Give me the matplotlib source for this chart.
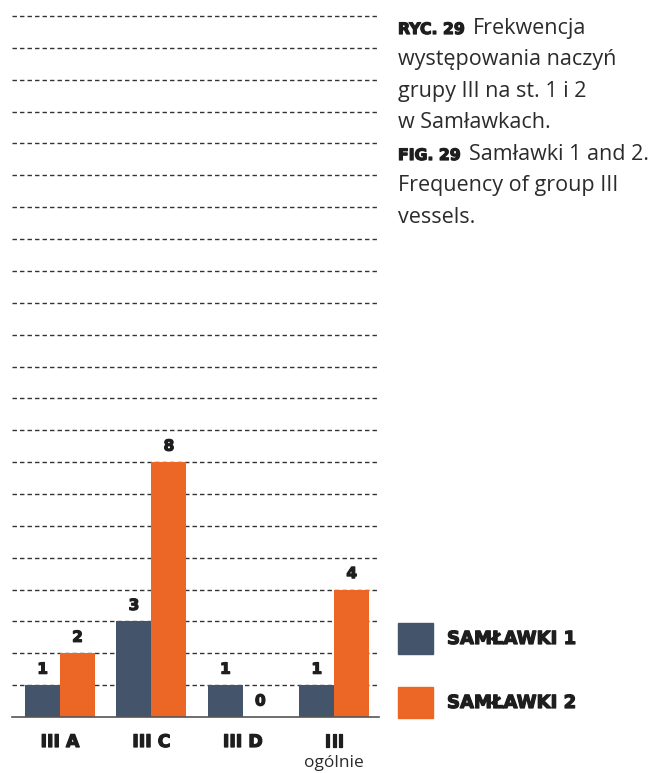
import matplotlib
matplotlib.use('Agg')
import matplotlib.pyplot as plt
import matplotlib.patheffects as pe
import numpy as np
from matplotlib.patches import Rectangle

# Data
categories = ['III A', 'III C', 'III D', 'III']
sublabels = ['', '', '', 'ogólnie']
samlawki_1 = [1, 3, 1, 1]
samlawki_2 = [2, 8, 0, 4]
series_names = ['SAMŁAWKI 1', 'SAMŁAWKI 2']

blue = '#44546a'
orange = '#ec6726'
ink = '#1e1e1e'
thick = [pe.withStroke(linewidth=0.9, foreground=ink)]
heavy = dict(family=['DejaVu Sans'], fontweight='bold', color=ink, path_effects=thick)
light = dict(family=['Open Sans', 'DejaVu Sans'], fontweight='normal', color='#2b2b2b')

W, H = 664, 773
fig = plt.figure(figsize=(W / 100, H / 100), dpi=100)
ax = fig.add_axes([12 / W, 56 / H, 367 / W, 707 / H])

x = np.arange(len(categories))
bw = 0.383
ax.bar(x - bw / 2, samlawki_1, bw, color=blue, zorder=3)
ax.bar(x + bw / 2, samlawki_2, bw, color=orange, zorder=3)

ax.set_xlim(-0.526, 3.49)
ax.set_ylim(0, 22.19)
ax.set_yticks(np.arange(1, 23))
ax.grid(axis='y', color='#333333', linestyle=(0, (3.2, 2.2)), linewidth=1.0, zorder=1)
ax.tick_params(left=False, bottom=False, labelleft=False, labelbottom=False)
for s in ['top', 'right', 'left']:
    ax.spines[s].set_visible(False)
ax.spines['bottom'].set_color('#555555')
ax.spines['bottom'].set_linewidth(1.2)
ax.spines['bottom'].set_zorder(4)

# value labels
for xs, vals in [(x - bw / 2, samlawki_1), (x + bw / 2, samlawki_2)]:
    for xi, v in zip(xs, vals):
        ax.annotate(str(v), xy=(xi, v), xytext=(0, 11.5), textcoords='offset points',
                    ha='center', va='center', fontsize=11, **heavy)

# category labels
for xi, cat, sub in zip(x, categories, sublabels):
    ax.annotate(cat, xy=(xi, 0), xycoords=('data', 'axes fraction'), xytext=(0, -18),
                textcoords='offset points', ha='center', va='center', fontsize=12.5, **heavy)
    if sub:
        ax.annotate(sub, xy=(xi, 0), xycoords=('data', 'axes fraction'), xytext=(0, -33),
                    textcoords='offset points', ha='center', va='center', fontsize=12.5, **light)

# legend
for i, (name, col) in enumerate(zip(series_names, [blue, orange])):
    y0 = 623 + i * 64
    fig.patches.append(Rectangle((398 / W, 1 - (y0 + 31) / H), 35 / W, 31 / H,
                                 transform=fig.transFigure, color=col))
    fig.text(447 / W, 1 - (y0 + 16) / H, name, ha='left', va='center', fontsize=13, **heavy)

# caption
cap_lines = [('RYC. 29', 'Frekwencja'), ('', 'występowania naczyń'), ('', 'grupy III na st. 1 i 2'),
             ('', 'w Samławkach.'), ('FIG. 29', 'Samławki 1 and 2.'), ('', 'Frequency of group III'),
             ('', 'vessels.')]
fig.canvas.draw()
for i, (lead, rest) in enumerate(cap_lines):
    yb = 1 - (34 + i * 31.5) / H
    if lead:
        t = fig.text(398 / W, yb, lead, ha='left', va='baseline', fontsize=11.3, **heavy)
        bb = t.get_window_extent(renderer=fig.canvas.get_renderer())
        fig.text((bb.x1 + 8) / W, yb, rest, ha='left', va='baseline', fontsize=15.5, **light)
    else:
        fig.text(398 / W, yb, rest, ha='left', va='baseline', fontsize=15.5, **light)

fig.savefig('out.png', dpi=100)
